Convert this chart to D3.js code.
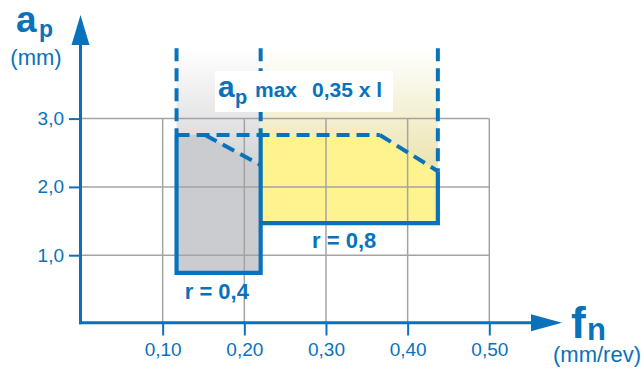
<!DOCTYPE html>
<html>
<head>
<meta charset="utf-8">
<script src="https://cdn.jsdelivr.net/npm/d3@7"></script>
<style>
  html, body { margin: 0; padding: 0; background: #fff; }
  svg { display: block; }
  text { font-family: "Liberation Sans", Arial, Helvetica, sans-serif; }
</style>
</head>
<body>
<svg id="chart" width="642" height="374"></svg>
<script>
// ---- data ----
const xTickValues = [0.1, 0.2, 0.3, 0.4, 0.5];
const xTickLabels = ["0,10", "0,20", "0,30", "0,40", "0,50"];
const yTickValues = [1, 2, 3];
const yTickLabels = ["1,0", "2,0", "3,0"];
// application area r = 0,4 (fn, ap)
const r04Region = [[0.117, 0.74], [0.117, 2.76], [0.152, 2.76], [0.22, 2.32], [0.22, 0.74]];
// application area r = 0,8 (fn, ap)
const r08Region = [[0.22, 1.47], [0.22, 2.76], [0.366, 2.76], [0.437, 2.23], [0.437, 1.47]];
const apMaxLevel = 2.76;
const apMaxTop = 4.03;
const regionLabels = ["r = 0,4", "r = 0,8"];

// ---- setup ----
const blue = "#0a72bb";
const svg = d3.select("#chart");
const x = d3.scaleLinear().domain([0, 0.5]).range([81, 489.3]);
const y = d3.scaleLinear().domain([0, 3]).range([323.5, 118.6]);
const line = d3.line().x(d => x(d[0])).y(d => y(d[1]));

const defs = svg.append("defs");
function grad(id, c) {
  const g = defs.append("linearGradient").attr("id", id)
    .attr("x1", 0).attr("y1", 0).attr("x2", 0).attr("y2", 1);
  g.append("stop").attr("offset", "0%").attr("stop-color", "#ffffff");
  g.append("stop").attr("offset", "100%").attr("stop-color", c);
}
grad("gGray", "#d3d4d6");
grad("gYel", "#ebe3ac");

// gradient zones (ap max envelope)
svg.append("rect")
  .attr("x", x(r04Region[0][0])).attr("y", y(apMaxTop))
  .attr("width", x(r04Region[3][0]) - x(r04Region[0][0]))
  .attr("height", y(r04Region[3][1]) - y(apMaxTop))
  .attr("fill", "url(#gGray)");
svg.append("rect")
  .attr("x", x(r08Region[0][0])).attr("y", y(apMaxTop))
  .attr("width", x(r08Region[3][0]) - x(r08Region[0][0]))
  .attr("height", y(r08Region[3][1]) - y(apMaxTop))
  .attr("fill", "url(#gYel)");

// solid fills
svg.append("path").attr("d", line(r04Region) + "Z").attr("fill", "#cbcccf");
svg.append("path").attr("d", line(r08Region) + "Z").attr("fill", "#fff38f");

// grid
const grid = svg.append("g").attr("stroke", "#a3a3a3").attr("stroke-width", 1.5);
grid.selectAll("line.v").data(xTickValues).join("line")
  .attr("x1", d => x(d)).attr("x2", d => x(d))
  .attr("y1", y(0)).attr("y2", y(3));
grid.selectAll("line.h").data(yTickValues).join("line")
  .attr("x1", x(0)).attr("x2", x(0.5))
  .attr("y1", d => y(d)).attr("y2", d => y(d));

// axes
const xAxis = d3.axisBottom(x).tickValues(xTickValues)
  .tickFormat((d, i) => xTickLabels[i]).tickSize(12).tickPadding(7).tickSizeOuter(0);
const gx = svg.append("g").attr("transform", `translate(0,${y(0)})`).call(xAxis);
const yAxis = d3.axisLeft(y).tickValues(yTickValues)
  .tickFormat((d, i) => yTickLabels[i]).tickSize(12).tickPadding(5).tickSizeOuter(0);
const gy = svg.append("g").attr("transform", `translate(${x(0)},0)`).call(yAxis);
[gx, gy].forEach(g => {
  g.select(".domain").remove();
  g.selectAll(".tick line").attr("stroke", blue).attr("stroke-width", 2);
  g.selectAll(".tick text").attr("fill", blue).attr("font-size", 19)
    .attr("font-family", "DejaVu Sans, Liberation Sans, Arial, sans-serif");
});

// axis lines with arrows
const ax0 = x(0) - 0.5, ay0 = y(0) - 0.8;
svg.append("line").attr("x1", ax0).attr("y1", ay0 + 1.5).attr("x2", ax0).attr("y2", 44)
  .attr("stroke", blue).attr("stroke-width", 3);
svg.append("path").attr("d", `M${ax0},15 L${ax0 - 9},45 L${ax0 + 9},45 Z`).attr("fill", blue);
svg.append("line").attr("x1", ax0 - 1.5).attr("y1", ay0).attr("x2", 532).attr("y2", ay0)
  .attr("stroke", blue).attr("stroke-width", 3);
svg.append("path").attr("d", `M562,${ay0} L531,${ay0 - 8.5} L531,${ay0 + 8.5} Z`).attr("fill", blue);

// outlines: dashed ap-max envelope
const dash = svg.append("g").attr("stroke", blue).attr("stroke-width", 4)
  .attr("fill", "none").attr("stroke-dasharray", "13,7");
const dashed = [
  [[r04Region[0][0], apMaxTop], [r04Region[0][0], apMaxLevel]],
  [[r08Region[0][0], apMaxTop], [r08Region[0][0], apMaxLevel]],
  [[r08Region[3][0], apMaxTop], [r08Region[3][0], r08Region[3][1]]],
  [[r04Region[1][0], apMaxLevel], [r08Region[2][0], apMaxLevel]],
  [r04Region[2], r04Region[3]],
  [r08Region[2], r08Region[3]]
];
dash.selectAll("path").data(dashed).join("path").attr("d", d => line(d));

// solid outlines
const solid = svg.append("g").attr("stroke", blue).attr("stroke-width", 4.2)
  .attr("fill", "none").attr("stroke-linejoin", "miter");
solid.append("path").attr("d", line([r04Region[1], r04Region[0], r04Region[4], [r04Region[4][0], apMaxLevel]]));
solid.append("path").attr("d", line([r08Region[0], r08Region[4], r08Region[3]]));

// label box ap max
svg.append("rect").attr("x", 215).attr("y", 71).attr("width", 178).attr("height", 41).attr("fill", "#fff");
const lab = svg.append("text").attr("fill", blue).attr("font-weight", "bold");
lab.append("tspan").attr("x", 218).attr("y", 97).attr("font-size", 30).text("a");
lab.append("tspan").attr("x", 235).attr("y", 104).attr("font-size", 20).text("p");
lab.append("tspan").attr("x", 255).attr("y", 97).attr("font-size", 21).text("max");
lab.append("tspan").attr("x", 312).attr("y", 97).attr("font-size", 21).text("0,35 x l");

// region labels
svg.append("text").attr("x", x(0.127)).attr("y", 299).attr("fill", blue)
  .attr("font-weight", "bold").attr("font-size", 22).text(regionLabels[0]);
svg.append("text").attr("x", x(0.283)).attr("y", 248).attr("fill", blue)
  .attr("font-weight", "bold").attr("font-size", 22).text(regionLabels[1]);

// axis titles
const ya = svg.append("text").attr("fill", blue).attr("font-weight", "bold");
ya.append("tspan").attr("x", 16).attr("y", 32).attr("font-size", 37).text("a");
ya.append("tspan").attr("x", 39).attr("y", 37).attr("font-size", 23).text("p");
svg.append("text").attr("x", 36).attr("y", 65).attr("text-anchor", "middle").attr("fill", blue)
  .attr("font-size", 22).text("(mm)");
const xa = svg.append("text").attr("fill", blue).attr("font-weight", "bold");
xa.append("tspan").attr("x", 571).attr("y", 338).attr("font-size", 44).text("f");
xa.append("tspan").attr("x", 587).attr("y", 340).attr("font-size", 31).text("n");
svg.append("text").attr("x", 641).attr("y", 362).attr("text-anchor", "end").attr("fill", blue)
  .attr("font-size", 22).text("(mm/rev)");
</script>
</body>
</html>
